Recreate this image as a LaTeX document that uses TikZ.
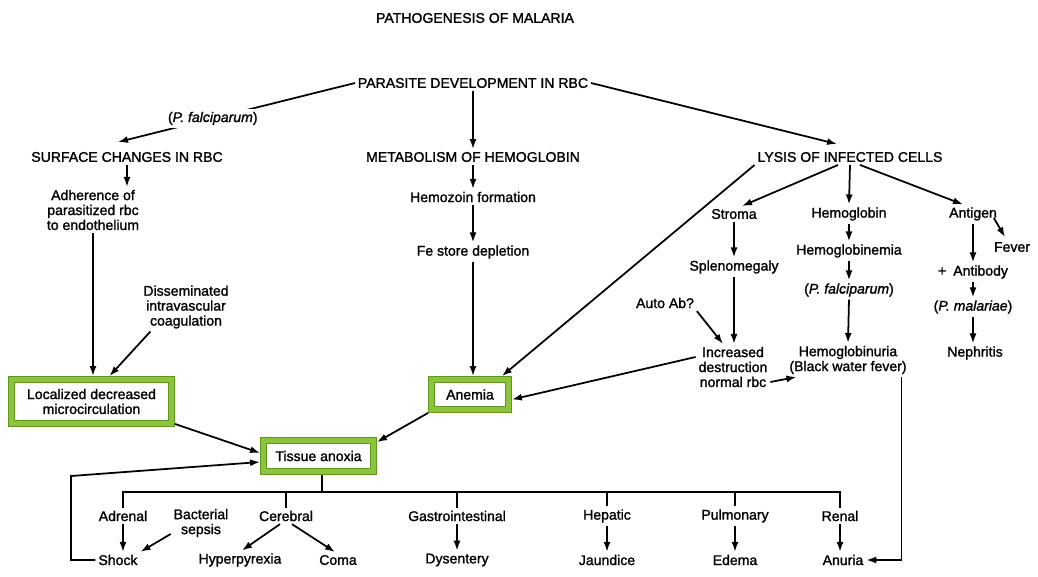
\documentclass[tikz,border=0pt]{standalone}
\usepackage{fontspec}
\setmainfont{Liberation Sans}
\newfontfamily\diagfont{Liberation Sans}[FakeBold=1.4]
\usetikzlibrary{arrows.meta}
\definecolor{boxgreen}{RGB}{140,196,60}
\definecolor{boxdark}{RGB}{96,150,30}

\begin{document}
\begin{tikzpicture}[x=0.02cm,y=-0.02cm,
  txt/.style={font=\diagfont\fontsize{8}{8.5}\selectfont,align=center,inner sep=1.5pt},
  arr/.style={line width=1pt,-{Latex[length=2mm,width=1.4mm]}},
  ln/.style={line width=1pt},
  keybox/.style={txt,draw=boxdark,double=boxgreen,double distance=3pt,line width=0.6pt,fill=white,outer sep=2.1pt}]
  \useasboundingbox[fill=white] (0,0) rectangle (1038,577);

  \node[txt] (title) at (475,18) {PATHOGENESIS OF MALARIA};
  \node[txt] (dev) at (473,83) {PARASITE DEVELOPMENT IN RBC};

  \node[txt] (surf) at (127,157) {SURFACE CHANGES IN RBC};
  \node[txt] (adh) at (93,210) {Adherence of\\parasitized rbc\\to endothelium};
  \node[txt] (dic) at (186,307) {Disseminated\\intravascular\\coagulation};

  \node[txt] (metab) at (473,157) {METABOLISM OF HEMOGLOBIN};
  \node[txt] (hemoz) at (473,197) {Hemozoin formation};
  \node[txt] (fe) at (473,252) {Fe store depletion};

  \node[txt] (lysis) at (850,157) {LYSIS OF INFECTED CELLS};
  \node[txt] (stroma) at (734,214) {Stroma};
  \node[txt] (hgb) at (849,214) {Hemoglobin};
  \node[txt] (antigen) at (973,214) {Antigen};
  \node[txt] (fever) at (1012,247) {Fever};
  \node[txt] (spleno) at (734,267) {Splenomegaly};
  \node[txt] (hgbemia) at (849,251) {Hemoglobinemia};
  \node[txt] (pfal) at (849,290) {(\textit{P. falciparum})};
  \node[txt] (antib) at (973,272) {+\enspace Antibody};
  \node[txt] (pmal) at (973,307) {(\textit{P. malariae})};
  \node[txt] (nephr) at (975,353) {Nephritis};
  \node[txt] (autoab) at (665,303) {Auto Ab?};
  \node[txt] (incr) at (733,367) {Increased\\destruction\\normal rbc};
  \node[txt] (hgburia) at (848,360) {Hemoglobinuria\\(Black water fever)};

  \node[keybox,minimum width=3.19cm,minimum height=0.87cm] (local) at (91.5,401.5) {Localized decreased\\microcirculation};
  \node[keybox,minimum width=1.53cm,minimum height=0.59cm] (anemia) at (470,394.5) {Anemia};
  \node[keybox,minimum width=2.19cm,minimum height=0.61cm] (tissue) at (318.5,456) {Tissue anoxia};

  \node[txt] (adrenal) at (123,516) {Adrenal};
  \node[txt] (bact) at (201,523) {Bacterial\\sepsis};
  \node[txt] (cerebral) at (286,516) {Cerebral};
  \node[txt] (gi) at (457,516) {Gastrointestinal};
  \node[txt] (hepatic) at (607,516) {Hepatic};
  \node[txt] (pulm) at (735,516) {Pulmonary};
  \node[txt] (renal) at (840,516) {Renal};
  \node[txt] (shock) at (118,560) {Shock};
  \node[txt] (hyper) at (240,560) {Hyperpyrexia};
  \node[txt] (coma) at (338,560) {Coma};
  \node[txt] (dysen) at (457,560) {Dysentery};
  \node[txt] (jaund) at (607,560) {Jaundice};
  \node[txt] (edema) at (735,560) {Edema};
  \node[txt] (anuria) at (843,560) {Anuria};

  \coordinate (hub) at (322,492);
  \coordinate (loop) at (71,476);

  \draw[arr] (dev.west) -- node[txt,pos=0.6,fill=white] {(\textit{P. falciparum})} ([shift={(-0.18cm,0.14cm)}]surf.north);
  \draw[arr] (dev.south) -- (metab.north);
  \draw[arr] (dev.east) -- ([shift={(-0.26cm,0.1cm)}]lysis.north);

  \draw[arr] (surf.south) -- (surf.south |- adh.north);
  \draw[arr] (adh.south) -- (adh.south |- local.north);
  \draw[arr] ([xshift=0.2cm]dic.south west) -- ([xshift=0.36cm]local.north);

  \draw[arr] (metab.south) -- (hemoz.north);
  \draw[arr] (hemoz.south) -- (fe.north);
  \draw[arr] (fe.south) -- (fe.south |- anemia.north);

  \draw[arr] ([xshift=-0.24cm]lysis.south) -- ([xshift=0.16cm]stroma.north);
  \draw[arr] (lysis.south) -- (hgb.north);
  \draw[arr] ([xshift=0.2cm]lysis.south) -- ([xshift=-0.2cm]antigen.north);
  \draw[arr] (lysis.south west) -- ([xshift=-0.2cm]anemia.north east);

  \draw[arr] (stroma.south) -- (spleno.north);
  \draw[arr] (spleno.south) -- (spleno.south |- incr.north);
  \draw[arr] (autoab.south east) -- ([xshift=-0.2cm]incr.north);
  \draw[arr] ([yshift=0.2cm]incr.west) -- ([yshift=-0.1cm]anemia.east);
  \draw[arr] ([yshift=-0.3cm]incr.east) -- ([xshift=0.2cm]hgburia.south west);

  \draw[arr] (hgb.south) -- (hgbemia.north);
  \draw[arr] (hgbemia.south) -- (pfal.north);
  \draw[arr] (pfal.south) -- (hgburia.north);
  \draw[arr] ([xshift=-0.16cm]hgburia.south east) |- (anuria.east);

  \draw[arr] ([shift={(-0.12cm,-0.08cm)}]antigen.east) -- ([shift={(-0.14cm,0.04cm)}]fever.north);
  \draw[arr] (antigen.south) -- (antigen.south |- antib.north);
  \draw[arr] (antigen.south |- antib.south) -- (antigen.south |- pmal.north);
  \draw[arr] (antigen.south |- pmal.south) -- (antigen.south |- nephr.north);

  \draw[arr] ([yshift=0.06cm]local.south east) -- ([yshift=0.06cm]tissue.west);
  \draw[arr] (anemia.south west) -- ([yshift=-0.1cm]tissue.north east);
  \draw[arr] (shock.west) -| (loop) -- ([yshift=-0.12cm]tissue.west);

  \draw[ln] (hub |- tissue.south) -- (hub);
  \draw[ln] (adrenal.north) -- (adrenal.north |- hub) -- (renal.north |- hub) -- (renal.north);
  \foreach \n in {cerebral,gi,hepatic,pulm}
    \draw[ln] (\n.north) -- (\n.north |- hub);

  \draw[arr] (adrenal.south) -- (adrenal.south |- shock.north);
  \draw[arr] ([yshift=-0.22cm]bact.west) -- (shock.north east);
  \draw[arr] ([xshift=-0.12cm]cerebral.south) -- ([xshift=0.04cm]hyper.north);
  \draw[arr] ([xshift=0.12cm]cerebral.south) -- ([xshift=-0.06cm]coma.north);
  \draw[arr] (gi.south) -- (dysen.north);
  \draw[arr] (hepatic.south) -- (jaund.north);
  \draw[arr] (pulm.south) -- (edema.north);
  \draw[arr] (renal.south) -- (renal.south |- anuria.north);
\end{tikzpicture}
\end{document}
